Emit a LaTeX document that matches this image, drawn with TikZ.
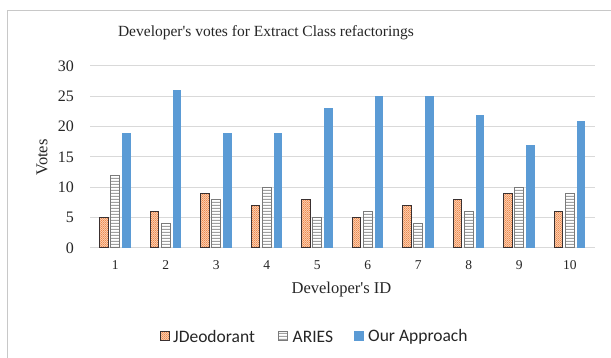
\documentclass[tikz,border=0pt]{standalone}
\usepackage{fontspec}
\setmainfont{Liberation Serif}
\newfontfamily\legendfont{Carlito}
\usetikzlibrary{patterns.meta}

% fine checker used for the JDeodorant series
\pgfdeclarepattern{
  name=finechecker,
  type=uncolored,
  bottom left={\pgfpoint{0pt}{0pt}},
  top right={\pgfpoint{2.2pt}{2.2pt}},
  tile size={\pgfpoint{2.2pt}{2.2pt}},
  code={
    \pgfpathrectangle{\pgfpointorigin}{\pgfpoint{1.1pt}{1.1pt}}
    \pgfpathrectangle{\pgfpoint{1.1pt}{1.1pt}}{\pgfpoint{1.1pt}{1.1pt}}
    \pgfusepath{fill}
  }
}
% horizontal stripes used for the ARIES series
\pgfdeclarepattern{
  name=finestripes,
  type=uncolored,
  bottom left={\pgfpoint{0pt}{0pt}},
  top right={\pgfpoint{1pt}{2.5pt}},
  tile size={\pgfpoint{1pt}{2.5pt}},
  code={
    \pgfpathrectangle{\pgfpointorigin}{\pgfpoint{1pt}{1.3pt}}
    \pgfusepath{fill}
  }
}

\definecolor{framegray}{HTML}{C8C8C8}
\definecolor{gridgray}{HTML}{D9D9D9}
\definecolor{jdlight}{HTML}{FBD3B8}
\definecolor{jdorange}{HTML}{EE8A4E}
\definecolor{jdedge}{HTML}{3A3030}
\definecolor{ariesgray}{HTML}{6E6E6E}
\definecolor{ariesedge}{HTML}{7A7A7A}
\definecolor{ourblue}{HTML}{5B9BD5}
\definecolor{txt}{HTML}{262626}

\tikzset{
  gridline/.style={draw=gridgray, line width=1pt},
  jdbar/.style={preaction={fill=jdlight}, pattern=finechecker, pattern color=jdorange,
                draw=jdedge, line width=1pt},
  ariesbar/.style={preaction={fill=white}, pattern=finestripes, pattern color=ariesgray,
                   draw=ariesedge, line width=1pt},
  ourbar/.style={fill=ourblue, draw=none},
  ylab/.style={anchor=east, font=\fontsize{16}{18}\selectfont, text=txt, inner sep=0pt},
  xlab/.style={anchor=center, font=\fontsize{13.5}{16}\selectfont, text=txt, inner sep=0pt},
  legendtext/.style={anchor=west, font=\legendfont\fontsize{17.5}{20}\selectfont, text=txt, inner sep=0pt},
}

\begin{document}
\begin{tikzpicture}[x=1pt, y=-1pt]
  \useasboundingbox (0,0) rectangle (611,358);
  \fill[white] (0,0) rectangle (611,358);

  % chart frame (left and top edges)
  \draw[framegray, line width=1.2pt] (7.5,358) -- (7.5,10.5) -- (611,10.5);

  % title
  \node[font=\fontsize{15.5}{18}\selectfont, text=txt] (title) at (266,33)
    {Developer\textquotesingle s votes for Extract Class refactorings};

  % horizontal gridlines and value labels
  \foreach \v in {0,5,...,30} {
    \draw[gridline] (90,248-6.0667*\v) -- (595,248-6.0667*\v);
    \node[ylab] (ytick\v) at (74,248-6.0667*\v) {\v};
  }

  % axis titles
  \node[rotate=90, font=\fontsize{16.5}{19}\selectfont, text=txt] (ytitle) at (42,157.5) {Votes};
  \node[font=\fontsize{16.5}{19}\selectfont, text=txt] (xtitle) at (341.5,290) {Developer\textquotesingle s ID};

  % bars: id / JDeodorant / ARIES / Our Approach
  \foreach \i/\a/\b/\c in {1/5/12/19, 2/6/4/26, 3/9/8/19, 4/7/10/19, 5/8/5/23,
                           6/5/6/25, 7/7/4/25, 8/8/6/22, 9/9/10/17, 10/6/9/21} {
    \pgfmathsetmacro\cx{90+50.5*(\i-0.5)}
    \path[jdbar] (\cx-15.6,248) rectangle (\cx-6.8,248-6.0667*\a);
    \path[ariesbar] (\cx-4.4,248) rectangle (\cx+4.4,248-6.0667*\b);
    \path[ourbar] (\cx+6.8,248) rectangle (\cx+15.6,248-6.0667*\c);
    \node[xlab] (xtick\i) at (\cx,265) {\i};
  }

  % legend
  \path[jdbar] (160.5,332) rectangle (169.5,341);
  \node[legendtext] (legjd) at (173,336.5) {JDeodorant};
  \path[ariesbar] (278.5,332) rectangle (287.5,341);
  \node[legendtext] (legaries) at (292.5,336.5) {ARIES};
  \path[ourbar] (354,331.5) rectangle (364,341.5);
  \node[legendtext] (legour) at (368,336.5) {Our Approach};
\end{tikzpicture}
\end{document}
